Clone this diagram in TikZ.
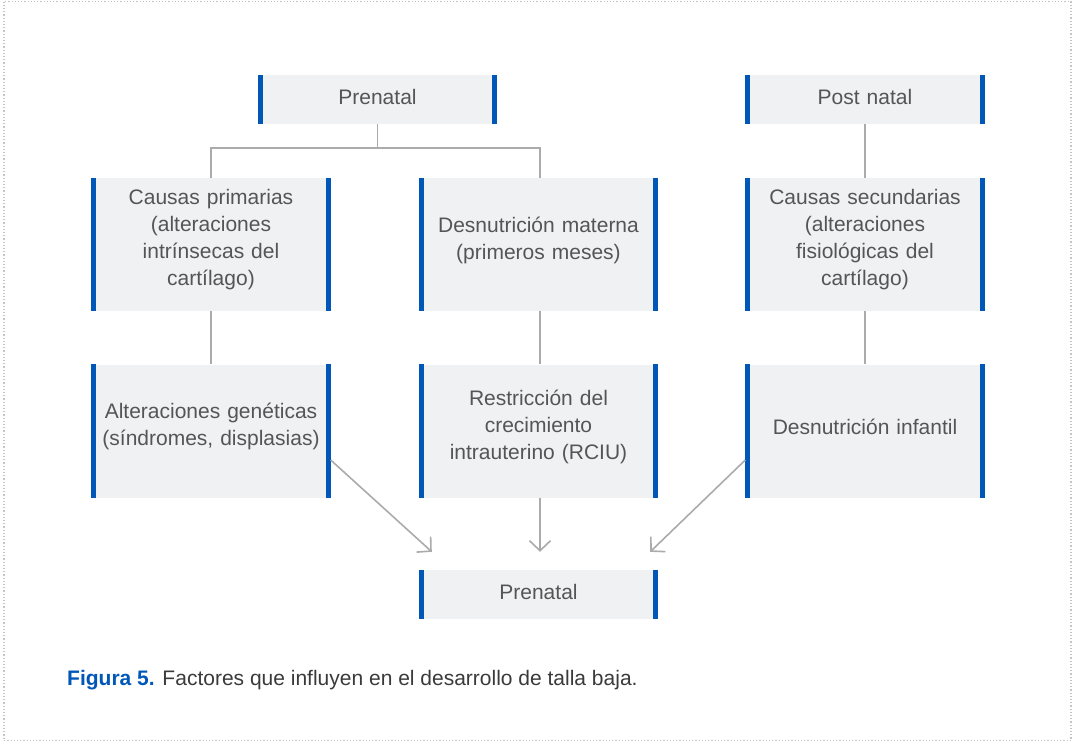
\documentclass[tikz,border=0pt]{standalone}
\usepackage{fontspec}
\setmainfont{Liberation Sans}
\usetikzlibrary{arrows.meta,calc}
\definecolor{boxgray}{HTML}{F0F1F3}
\definecolor{barblue}{HTML}{0057B8}
\definecolor{linegray}{HTML}{ABABAB}
\definecolor{textgray}{HTML}{555555}
\definecolor{capgray}{HTML}{3A3A3A}
\definecolor{dotgray}{HTML}{C4C4C4}
\newcommand\boxpad[1]{\endgraf\vspace*{#1}}

\begin{document}
\begin{tikzpicture}[
  x=1pt, y=-1pt,
  box/.style={fill=boxgray, inner sep=0pt, text width=239pt, minimum height=133pt, align=center, text=textgray,
    font=\fontsize{21}{27}\selectfont, execute at end node={\boxpad{9pt}}},
  sbox/.style={box, minimum height=49pt, execute at end node={\boxpad{-4pt}}},
  bar/.style={draw=barblue, line width=5pt},
  link/.style={draw=linegray, line width=1.6pt},
  arr/.style={link, -{Straight Barb[length=10pt,width=21pt,line width=1.6pt]}}
]
  \useasboundingbox (0,0) rectangle (1073,742);
  \draw[dotgray, line width=1.2pt, dotted] (4,1.5) rectangle (1071,740.5);

  \node[sbox] (pre) at (377.5,99.5) {Prenatal};
  \node[sbox] (post) at (865,99.5) {Post natal};
  \node[box] (prim) at (211,244.5) {Causas primarias\\(alteraciones\\intrínsecas del\\cartílago)};
  \node[box] (mat) at (538.5,244.5) {Desnutrición materna\\(primeros meses)};
  \node[box] (sec) at (865,244.5) {Causas secundarias\\(alteraciones\\fisiológicas del\\cartílago)};
  \node[box] (gen) at (211,431) {Alteraciones genéticas\\(síndromes, displasias)};
  \node[box] (rciu) at (538.5,431) {Restricción del\\crecimiento\\intrauterino (RCIU)};
  \node[box] (inf) at (865,431) {Desnutrición infantil};
  \node[sbox] (res) at (538.5,594.5) {Prenatal};

  \foreach \n in {pre,post,prim,mat,sec,gen,rciu,inf,res} {
    \draw[bar] ([xshift=2.5pt]\n.north west) -- ([xshift=2.5pt]\n.south west);
    \draw[bar] ([xshift=-2.5pt]\n.north east) -- ([xshift=-2.5pt]\n.south east);
  }

  \draw[link] (pre.south) -- ++(0,24) -| (prim.north);
  \draw[link] (pre.south) -- ++(0,24) -| ([xshift=1.5pt]mat.north);
  \draw[link] (post) -- (sec);
  \draw[link] (prim) -- (gen);
  \draw[link] ([xshift=1.5pt]mat.south) -- ([xshift=1.5pt]rciu.north);
  \draw[link] (sec) -- (inf);

  \coordinate (g1) at ($(gen.east)+(0,29)$);
  \coordinate (i1) at ($(inf.west)+(0,29)$);
  \coordinate (t1) at ($(res.north west)+(13,-18)$);
  \coordinate (t2) at ($(res.north)+(1.5,-18)$);
  \coordinate (t3) at ($(res.north east)+(-8,-18)$);
  \draw[arr] (g1) -- (t1);
  \draw[arr] ([xshift=1.5pt]rciu.south) -- (t2);
  \draw[arr] (i1) -- (t3);

  \node[anchor=base west, inner sep=0pt, font=\fontsize{21}{25}\selectfont, text=capgray] (cap) at (67,685)
    {\textcolor{barblue}{\textbf{Figura 5.}} Factores que influyen en el desarrollo de talla baja.};
\end{tikzpicture}
\end{document}
